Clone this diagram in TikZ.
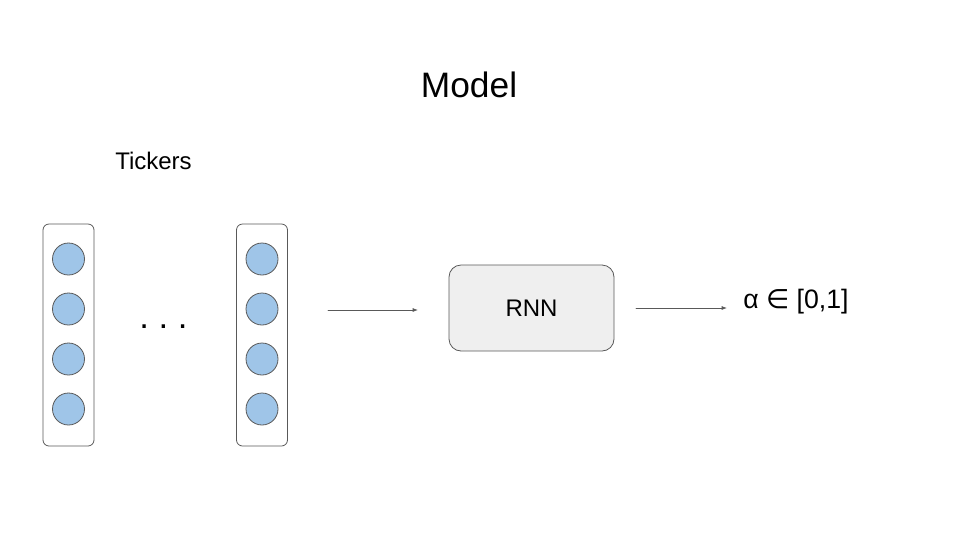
\documentclass[tikz,border=0pt]{standalone}
\usepackage{fontspec}
\setmainfont{Liberation Sans}
\newfontfamily\symfont{DejaVu Sans}
\usetikzlibrary{arrows.meta}
\definecolor{edgegray}{HTML}{595959}
\definecolor{unitblue}{HTML}{9FC5E8}
\definecolor{boxgray}{HTML}{EFEFEF}
\tikzset{
  column/.style={draw=edgegray,line width=0.6pt,rounded corners=4.5pt,minimum width=38.25pt,minimum height=166.5pt,inner sep=0pt},
  unit/.style={circle,draw=edgegray,line width=0.6pt,fill=unitblue,minimum size=24pt,inner sep=0pt},
  rnnbox/.style={draw=edgegray,line width=0.6pt,fill=boxgray,rounded corners=9pt,minimum width=123.75pt,minimum height=64.5pt,font=\fontsize{18}{21}\selectfont},
  flow/.style={draw=edgegray,line width=0.6pt,-{Latex[length=4pt,width=3pt]}}
}
\begin{document}
\begin{tikzpicture}[x=0.75pt,y=-0.75pt,every path/.style={join=round,cap=round}]
    \useasboundingbox (0,0) rectangle (960,540);
    \node[anchor=base,inner sep=0pt,font=\fontsize{26.5}{30}\selectfont] (title) at (469,97) {Model};
    \node[anchor=base west,inner sep=0pt,font=\fontsize{18}{21}\selectfont] (tickers) at (115,169) {Tickers};
    % ticker columns
    \node[column] (left) at (68.5,335) {};
    \node[column] (right) at (262,335) {};
    \foreach \i/\y in {1/259,2/309,3/359,4/409} {
      \node[unit] (l\i) at (68.5,\y) {};
      \node[unit] (r\i) at (262,\y) {};
    }
    \node[anchor=base,inner sep=0pt,font=\fontsize{26}{30}\selectfont] (dots) at (163.5,328) {.\ .\ .};
    \node[rnnbox] (rnn) at (531.5,308) {RNN};
    \node[anchor=base west,inner sep=0pt,font=\fontsize{20}{24}\selectfont] (alpha) at (743,308) {α {\symfont ∈} [0,1]};
    \coordinate (in) at (328,310);
    \coordinate (inend) at (418,310);
    \coordinate (out) at (636,308);
    \coordinate (outend) at (727,308);
    \draw[flow] (in) -- (inend);
    \draw[flow] (out) -- (outend);
\end{tikzpicture}
\end{document}
